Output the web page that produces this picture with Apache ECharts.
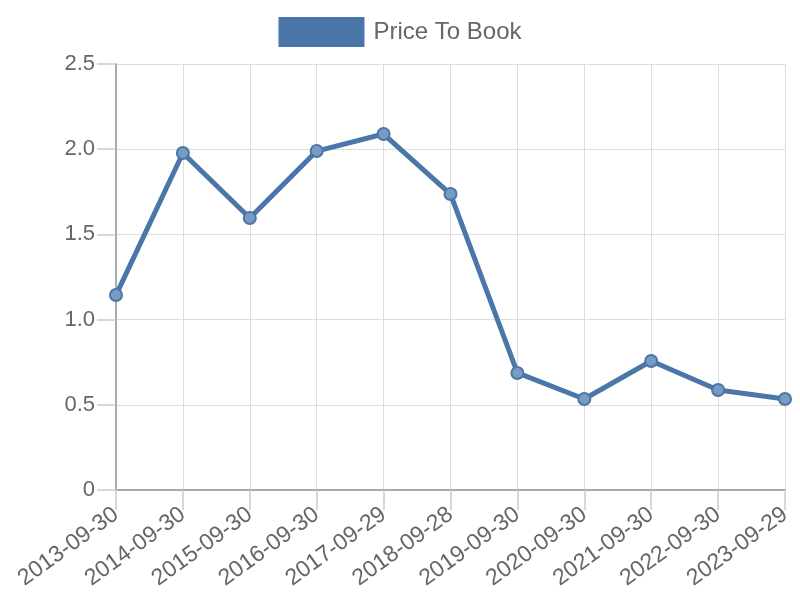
<!DOCTYPE html>
<html><head><meta charset="utf-8">
<script src="https://cdn.jsdelivr.net/npm/echarts@6/dist/echarts.min.js"></script>
<style>html,body{margin:0;padding:0;background:#fff}#c{width:800px;height:600px}</style>
</head><body><div id="c"></div>
<script>
const categories = ["2013-09-30","2014-09-30","2015-09-30","2016-09-30","2017-09-29","2018-09-28","2019-09-30","2020-09-30","2021-09-30","2022-09-30","2023-09-29"];
const priceToBook = [1.144, 1.978, 1.596, 1.989, 2.089, 1.737, 0.687, 0.534, 0.757, 0.587, 0.534];
const seriesName = "Price To Book";
const lineColor = "#4a76a8";
const chart = echarts.init(document.getElementById('c'));
chart.setOption({
  animation: false,
  textStyle: { fontFamily: "Liberation Sans, Arial, sans-serif" },
  legend: {
    top: 17, left: 'center', padding: 0,
    itemWidth: 86, itemHeight: 30, itemGap: 10,
    icon: 'rect',
    textStyle: { fontSize: 24, color: '#666', fontFamily: "Liberation Sans, Arial, sans-serif", padding: [0,0,0,4] },
    data: [{ name: seriesName, itemStyle: { color: lineColor, borderWidth: 0 } }]
  },
  grid: { left: 116, right: 15, top: 64, bottom: 110, containLabel: false },
  xAxis: {
    type: 'category', data: categories, boundaryGap: false,
    axisLine: { lineStyle: { color: '#aaa', width: 2 } },
    axisTick: { show: true, length: 20, lineStyle: { color: '#ccc', width: 1.5 } },
    splitLine: { show: true, lineStyle: { color: '#ddd', width: 1 } },
    axisLabel: { rotate: 36, fontSize: 23, color: '#666', margin: 22, interval: 0 }
  },
  yAxis: {
    type: 'value', min: 0, max: 2.5, interval: 0.5,
    axisLine: { show: true, lineStyle: { color: '#aaa', width: 2 } },
    axisTick: { show: true, length: 19, lineStyle: { color: '#ccc', width: 1.5 } },
    splitLine: { show: true, lineStyle: { color: '#ddd', width: 1 } },
    axisLabel: { fontSize: 22, color: '#666', margin: 21,
      formatter: v => v === 0 ? '0' : v.toFixed(1) }
  },
  series: [{
    name: seriesName, type: 'line', data: priceToBook,
    lineStyle: { color: lineColor, width: 5 },
    itemStyle: { color: 'rgba(120,155,195,1)', borderColor: lineColor, borderWidth: 2 },
    symbol: 'circle', symbolSize: 12, showSymbol: true
  }]
});
</script></body></html>
